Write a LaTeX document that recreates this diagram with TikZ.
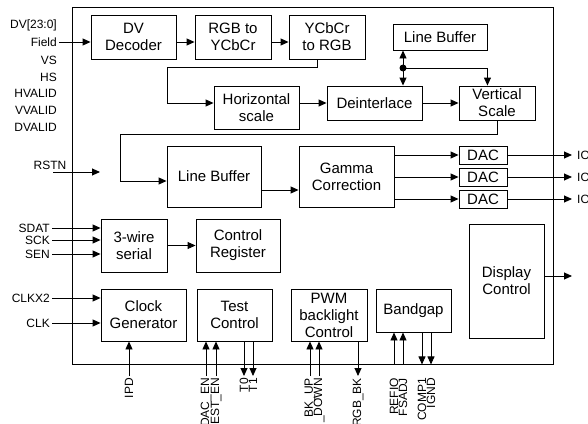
\documentclass[tikz,border=0pt]{standalone}
\usepackage{fontspec}
\setmainfont{Liberation Sans}
\usetikzlibrary{calc, arrows.meta}

\tikzset{
    blk/.style={draw, line width=0.9pt, inner sep=0pt, align=center,
        font=\fontsize{15}{17}\selectfont},
    sz/.style 2 args={minimum width=#1, minimum height=#2},
    arr/.style={line width=0.9pt, -{Triangle[length=8pt, width=7pt]}},
    arrs/.style={line width=0.9pt,
        {Triangle[length=8pt, width=7pt]}-{Triangle[length=8pt, width=7pt]}},
    sig/.style={inner sep=2pt, font=\fontsize{12}{14}\selectfont},
    vsig/.style={sig, rotate=90, anchor=east}
}

\begin{document}
\begin{tikzpicture}[x=1pt, y=-1pt]
            \useasboundingbox (0,0) rectangle (588,423);
            \node[draw, line width=0.9pt, sz={481pt}{357pt}] (chip) at (312.5,185.5) {};
            \node[blk, sz={85pt}{44pt}] (dv) at (133.5,37) {DV\\Decoder};
            \node[blk, sz={76pt}{44pt}] (rgb) at (233,37) {RGB to\\YCbCr};
            \node[blk, sz={76pt}{44pt}] (ycc) at (327,37) {YCbCr\\to RGB};
            \node[blk, sz={94pt}{26pt}] (lbtop) at (440,37) {Line Buffer};
            \node[blk, sz={85pt}{43pt}] (hs) at (256.5,107.5) {Horizontal\\scale};
            \node[blk, sz={95pt}{34pt}] (dei) at (374.5,103) {Deinterlace};
            \node[blk, sz={76pt}{34pt}] (vs) at (497,103) {Vertical\\Scale};
            \node[blk, sz={94pt}{61pt}] (lb) at (214,176.5) {Line Buffer};
            \node[blk, sz={95pt}{61pt}] (gam) at (346.5,176.5) {Gamma\\Correction};
            \node[blk, sz={48pt}{18pt}] (dac1) at (483,155) {DAC};
            \node[blk, sz={48pt}{18pt}] (dac2) at (483,177) {DAC};
            \node[blk, sz={48pt}{18pt}] (dac3) at (483,199) {DAC};
            \node[blk, sz={66pt}{53pt}] (ser) at (134,245.5) {3-wire\\serial};
            \node[blk, sz={84pt}{53pt}] (creg) at (238,245.5) {Control\\Register};
            \node[blk, sz={75pt}{114pt}] (disp) at (506.5,281) {Display\\Control};
            \node[blk, sz={85pt}{52pt}] (clk) at (143.5,315) {Clock\\Generator};
            \node[blk, sz={75pt}{52pt}] (tst) at (234.5,315) {Test\\Control};
            \node[blk, sz={76pt}{52pt}] (pwm) at (329,315) {PWM\\backlight\\Control};
            \node[blk, sz={75pt}{43pt}] (bg) at (413.5,310.5) {Bandgap};

            \node[sig, anchor=east] (dvin) at (59,25) {DV[23:0]};
            \node[sig, anchor=east] (field) at (59,42) {Field};
            \node[sig, anchor=east] (vsin) at (59,60) {VS};
            \node[sig, anchor=east] (hsin) at (59,77) {HS};
            \node[sig, anchor=east] (hvalid) at (59,93) {HVALID};
            \node[sig, anchor=east] (vvalid) at (59,110) {VVALID};
            \node[sig, anchor=east] (dvalid) at (59,127) {DVALID};
            \node[sig, anchor=center] (rstn) at (50,165) {RSTN};
            \node[sig, anchor=east] (sdat) at (52,228) {SDAT};
            \node[sig, anchor=east] (sck) at (52,240) {SCK};
            \node[sig, anchor=east] (sen) at (52,254) {SEN};
            \node[sig, anchor=east] (clkx2) at (52,298) {CLKX2};
            \node[sig, anchor=east] (clkin) at (52,323) {CLK};
            \node[sig, anchor=west] (io1) at (575,155) {IO};
            \node[sig, anchor=west] (io2) at (575,177) {IO};
            \node[sig, anchor=west] (io3) at (575,199) {IO};

            \node[vsig] (ipd) at (129,376) {IPD};
            \node[vsig] (dacen) at (206,376) {DAC\_EN};
            \node[vsig] (esten) at (216,376) {EST\_EN};
            \node[vsig] (tzero) at (244,376) {T0};
            \node[vsig] (tone) at (253,376) {T1};
            \node[vsig] (bkup) at (310,376) {BK\_UP};
            \node[vsig] (bkdn) at (319,376) {\_DOWN};
            \node[vsig] (rgbbk) at (358,376) {RGB\_BK};
            \node[vsig] (refio) at (394,376) {REFIO};
            \node[vsig] (fsadj) at (403,376) {FSADJ};
            \node[vsig] (comp) at (422,376) {COMP1};
            \node[vsig] (ignd) at (431,376) {IGND};

            \coordinate (bendA) at (167,67);
            \coordinate (bendB) at (120,134);
            \coordinate (dot) at (403,68);
            \coordinate (rst) at (53,172);
            \coordinate (rstend) at (100,172);
            \coordinate (dispout) at (572,276);

            \draw[arr] (field.east) -- (field.east -| dv.west);
            \draw[arr] ([yshift=-5pt]dv.east) -- ([yshift=-5pt]rgb.west);
            \draw[arr] ([yshift=-5pt]rgb.east) -- ([yshift=-5pt]ycc.west);
            \draw[arr] ([xshift=-10pt]ycc.south) |- (bendA) |- (hs.west |- dei.west);
            \draw[arr] (dei.west -| hs.east) -- (dei.west);
            \draw[arr] (dei.east) -- (vs.west);
            \draw[arrs] (lbtop.south -| dot) -- (dei.north -| dot);
            \fill (dot) circle (3.5pt);
            \draw[arr] (dot) -| (vs.north -| lbtop.east);
            \draw[arr] (vs.south) |- (bendB) |- ([yshift=-4.5pt]lb.west);
            \draw[arr] ([yshift=-13.5pt]lb.east) -- ([yshift=-13.5pt]gam.west);
            \draw[arr] (dac1.west -| gam.east) -- (dac1.west);
            \draw[arr] (dac2.west -| gam.east) -- (dac2.west);
            \draw[arr] (dac3.west -| gam.east) -- (dac3.west);
            \draw[arr] (dac1.east) -- ([xshift=-3pt]io1.west);
            \draw[arr] (dac2.east) -- ([xshift=-3pt]io2.west);
            \draw[arr] (dac3.east) -- ([xshift=-3pt]io3.west);
            \draw[arr] (dispout -| disp.east) -- (dispout);
            \draw[arr] (rst) -- (rstend);
            \draw[arr] (sdat.east) -- (sdat.east -| ser.west);
            \draw[arr] (sck.east) -- (sck.east -| ser.west);
            \draw[arr] (sen.east) -- (sen.east -| ser.west);
            \draw[arr] (ser.east) -- (creg.west);
            \draw[arr] (clkx2.east) -- (clkx2.east -| clk.west);
            \draw[arr] (clkin.east) -- (clkin.east -| clk.west);
            \draw[arr] (ipd.east) -- (ipd.east |- clk.south);
            \draw[arr] (dacen.east) -- (dacen.east |- tst.south);
            \draw[arr] (esten.east) -- (esten.east |- tst.south);
            \draw[arr] (tzero.east |- tst.south) -- (tzero.east);
            \draw[arr] (tone.east |- tst.south) -- (tone.east);
            \draw[arr] (bkup.east) -- (bkup.east |- pwm.south);
            \draw[arr] (bkdn.east) -- (bkdn.east |- pwm.south);
            \draw[arr] (rgbbk.east |- pwm.south) -- (rgbbk.east);
            \draw[arr] (refio.east |- chip.south) -- (refio.east |- bg.south);
            \draw[arr] (fsadj.east |- chip.south) -- (fsadj.east |- bg.south);
            \draw[arr] (comp.east |- bg.south) -- (comp.east |- chip.south);
            \draw[arr] (ignd.east |- bg.south) -- (ignd.east |- chip.south);
        \end{tikzpicture}
\end{document}
